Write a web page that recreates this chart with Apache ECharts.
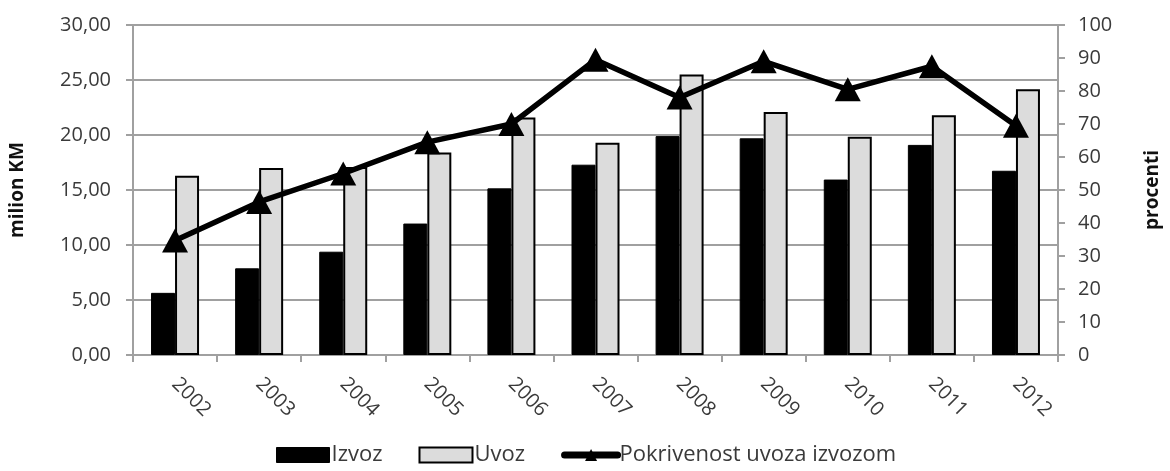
<!DOCTYPE html>
<html>
<head>
<meta charset="utf-8">
<script src="https://cdn.jsdelivr.net/npm/echarts@6/dist/echarts.min.js"></script>
<style>html,body{margin:0;padding:0;background:#fff}#c{width:1170px;height:471px}</style>
</head>
<body>
<div id="c"></div>
<script>
const years = ['2002','2003','2004','2005','2006','2007','2008','2009','2010','2011','2012'];
const izvoz = [5.65, 7.88, 9.39, 11.95, 15.15, 17.3, 19.9, 19.7, 15.95, 19.1, 16.75];
const uvoz = [16.3, 17.0, 17.1, 18.4, 21.6, 19.3, 25.5, 22.1, 19.85, 21.8, 24.15];
const pokrivenost = [34.7, 46.4, 55.0, 64.5, 70.0, 89.5, 78.0, 89.0, 80.5, 87.5, 69.5];
const leftTicks = [0, 5, 10, 15, 20, 25, 30];
const rightTicks = [0, 10, 20, 30, 40, 50, 60, 70, 80, 90, 100];

const FONT = '"Open Sans", sans-serif';
const TXT = '#3a3a3a';
const AX = '#a0a0a0';

const chart = echarts.init(document.getElementById('c'), null, {renderer: 'canvas'});
chart.setOption({
  animation: false,
  textStyle: {fontFamily: FONT},
  grid: {left: 128, right: 98, top: 25, bottom: 116, containLabel: false},
  legend: {
    bottom: 0,
    left: 271,
    itemWidth: 53,
    itemHeight: 15,
    itemGap: 36,
    textStyle: {fontFamily: FONT, fontSize: 22, color: TXT, padding: [0, 0, 0, -3]},
    data: [
      {name: 'Izvoz', icon: 'rect', itemStyle: {color: '#000', borderColor: '#000', borderWidth: 1}},
      {name: 'Uvoz', icon: 'rect', itemStyle: {color: '#dcdcdc', borderColor: '#000', borderWidth: 2}},
      {name: 'Pokrivenost uvoza izvozom', lineStyle: {width: 7, color: '#000', cap: 'round'}}
    ]
  },
  xAxis: {
    type: 'category',
    data: years,
    axisLine: {lineStyle: {color: AX, width: 2}},
    axisTick: {show: true, length: 7, lineStyle: {color: AX, width: 2}},
    axisLabel: {rotate: -45, fontSize: 20, color: TXT, fontFamily: FONT, margin: 26}
  },
  yAxis: [{
    type: 'value',
    min: leftTicks[0],
    max: leftTicks[leftTicks.length - 1],
    interval: 5,
    name: 'milion KM',
    nameLocation: 'middle',
    nameGap: 106,
    nameTextStyle: {fontSize: 19, fontWeight: 'bold', color: '#111', fontFamily: FONT},
    axisLine: {show: true, lineStyle: {color: AX, width: 2}},
    axisTick: {show: true, length: 7, lineStyle: {color: AX, width: 2}},
    splitLine: {show: true, lineStyle: {color: AX, width: 2}},
    axisLabel: {fontSize: 20, color: TXT, fontFamily: FONT, margin: 22,
      formatter: v => v.toFixed(2).replace('.', ',')}
  }, {
    type: 'value',
    min: rightTicks[0],
    max: rightTicks[rightTicks.length - 1],
    interval: 10,
    name: 'procenti',
    nameLocation: 'middle',
    nameGap: 85,
    nameTextStyle: {fontSize: 19, fontWeight: 'bold', color: '#111', fontFamily: FONT},
    axisLine: {show: true, lineStyle: {color: AX, width: 2}},
    axisTick: {show: true, length: 7, lineStyle: {color: AX, width: 2}},
    splitLine: {show: false},
    axisLabel: {fontSize: 20, color: TXT, fontFamily: FONT, margin: 20}
  }],
  series: [{
    name: 'Izvoz',
    type: 'bar',
    data: izvoz,
    barWidth: 24,
    barGap: '0%',
    itemStyle: {color: '#000', borderColor: '#000', borderWidth: 1}
  }, {
    name: 'Uvoz',
    type: 'bar',
    data: uvoz,
    barWidth: 24,
    barGap: '0%',
    itemStyle: {color: '#dcdcdc', borderColor: '#000', borderWidth: 2}
  }, {
    name: 'Pokrivenost uvoza izvozom',
    type: 'line',
    yAxisIndex: 1,
    data: pokrivenost,
    symbol: 'triangle',
    symbolSize: [26, 24],
    lineStyle: {color: '#000', width: 5.5},
    itemStyle: {color: '#000'},
    z: 5
  }]
});
</script>
</body>
</html>
